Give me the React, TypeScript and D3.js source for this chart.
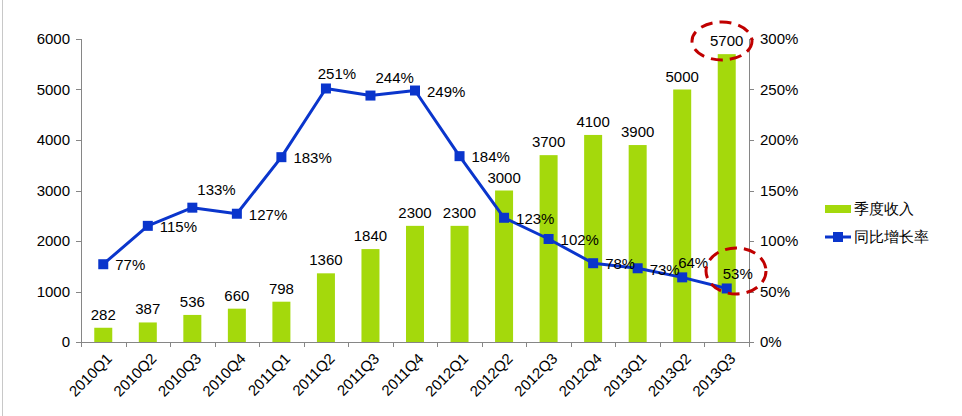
import React from "react";
import * as d3 from "d3";

const categories = ["2010Q1","2010Q2","2010Q3","2010Q4","2011Q1","2011Q2","2011Q3","2011Q4","2012Q1","2012Q2","2012Q3","2012Q4","2013Q1","2013Q2","2013Q3"];
const revenue = [282,387,536,660,798,1360,1840,2300,2300,3000,3700,4100,3900,5000,5700];
const growth = [77,115,133,127,183,251,244,249,184,123,102,78,73,64,53];
const growthLabelPos = ["right","right","topright","right","right","top","topright","right","right","right","right","right","right","top","top"];
const leftTicks = [0,1000,2000,3000,4000,5000,6000];
const rightTicks = [0,50,100,150,200,250,300];
const seriesNames = ["季度收入","同比增长率"];

const W = 962, H = 416;
const L = 81, R = 749, T = 39, B = 342;
const GREEN = "#a4d90c";
const BLUE = "#0a35cc";
const AXIS = "#868686";
const FONT = "Liberation Sans, Arial, sans-serif";

export default function App() {
  const xb = d3.scaleLinear().domain([0, categories.length]).range([L, R]);
  const yL = d3.scaleLinear().domain([0, 6000]).range([B, T]);
  const yR = d3.scaleLinear().domain([0, 300]).range([B, T]);
  const cx = (i: number) => xb(i + 0.5);
  const bw = 18;
  const line = d3.line<number>().x((_, i) => cx(i)).y(d => yR(d));

  return (
    <svg width={W} height={H} style={{ position: "absolute", left: 0, top: 0, background: "#fff" }} fontFamily={FONT}>
      <rect x={0} y={0} width={W} height={H} fill="#fff" />
      <line x1={2.5} x2={2.5} y1={0} y2={H} stroke="#c8c8c8" strokeWidth={1} />
      {/* bars */}
      {revenue.map((v, i) => (
        <rect key={"b" + i} x={cx(i) - bw / 2} y={yL(v)} width={bw} height={B - yL(v)} fill={GREEN} />
      ))}
      {/* left axis */}
      <line x1={L + 0.5} x2={L + 0.5} y1={T} y2={B} stroke={AXIS} />
      {leftTicks.map(t => (
        <g key={"lt" + t}>
          <line x1={L - 5} x2={L} y1={Math.round(yL(t)) + 0.5} y2={Math.round(yL(t)) + 0.5} stroke={AXIS} />
          <text x={L - 11} y={yL(t)} dy="0.35em" textAnchor="end" fontSize={15} fill="#000">{t}</text>
        </g>
      ))}
      {/* right axis */}
      <line x1={R + 0.5} x2={R + 0.5} y1={T} y2={B} stroke={AXIS} />
      {rightTicks.map(t => (
        <g key={"rt" + t}>
          <line x1={R} x2={R + 5} y1={Math.round(yR(t)) + 0.5} y2={Math.round(yR(t)) + 0.5} stroke={AXIS} />
          <text x={R + 11} y={yR(t)} dy="0.35em" textAnchor="start" fontSize={15} fill="#000">{t + "%"}</text>
        </g>
      ))}
      {/* x axis */}
      <line x1={L} x2={R + 1} y1={B + 0.5} y2={B + 0.5} stroke={AXIS} />
      {d3.range(categories.length + 1).map(i => (
        <line key={"xt" + i} x1={Math.round(xb(i)) + 0.5} x2={Math.round(xb(i)) + 0.5} y1={B} y2={B + 5} stroke={AXIS} />
      ))}
      {categories.map((c, i) => (
        <text key={"xl" + i} transform={`translate(${cx(i) + 6},${B + 14}) rotate(-45)`} textAnchor="end" dy="0.35em" fontSize={15} fill="#000">{c}</text>
      ))}
      {/* bar labels */}
      {revenue.map((v, i) => (
        <text key={"bl" + i} x={cx(i)} y={yL(v) - 8} textAnchor="middle" fontSize={15} fill="#000">{v}</text>
      ))}
      {/* line */}
      <path d={line(growth) || ""} fill="none" stroke={BLUE} strokeWidth={3} strokeLinejoin="round" />
      {growth.map((v, i) => (
        <rect key={"m" + i} x={cx(i) - 5} y={yR(v) - 5} width={10} height={10} fill={BLUE} />
      ))}
      {growth.map((v, i) => {
        const pos = growthLabelPos[i];
        const px = cx(i), py = yR(v);
        if (pos === "top") {
          return <text key={"gl" + i} x={px + 11} y={py - 9} textAnchor="middle" fontSize={15} fill="#000">{v + "%"}</text>;
        }
        if (pos === "topright") {
          return <text key={"gl" + i} x={px + 5} y={py - 13} textAnchor="start" fontSize={15} fill="#000">{v + "%"}</text>;
        }
        return <text key={"gl" + i} x={px + 12} y={py + 1} dy="0.35em" textAnchor="start" fontSize={15} fill="#000">{v + "%"}</text>;
      })}
      {/* dashed ellipses */}
      <ellipse cx={722} cy={41} rx={30} ry={19} fill="none" stroke="#c00000" strokeWidth={3} strokeDasharray="12 7" />
      <ellipse cx={736} cy={271} rx={30} ry={23} fill="none" stroke="#c00000" strokeWidth={3} strokeDasharray="12 7" />
      {/* legend */}
      <rect x={825} y={205} width={26} height={8} fill={GREEN} />
      <text x={854} y={209} dy="0.35em" fontSize={15} fill="#000">{seriesNames[0]}</text>
      <line x1={825} x2={851} y1={237} y2={237} stroke={BLUE} strokeWidth={3} />
      <rect x={833} y={232} width={10} height={10} fill={BLUE} />
      <text x={854} y={237} dy="0.35em" fontSize={15} fill="#000">{seriesNames[1]}</text>
    </svg>
  );
}
